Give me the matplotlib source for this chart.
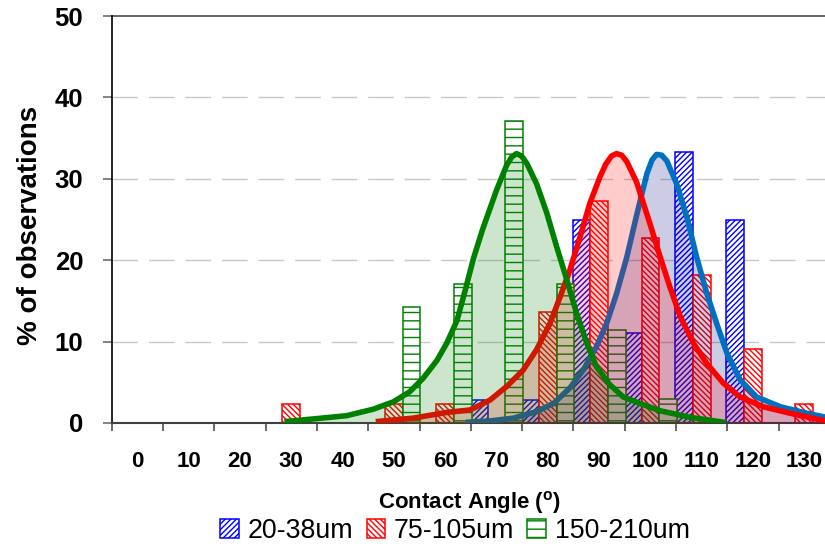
import numpy as np
import matplotlib
matplotlib.use('Agg')
import matplotlib.pyplot as plt
from matplotlib.patches import Patch

plt.rcParams['font.family'] = ['Liberation Sans', 'DejaVu Sans']
plt.rcParams['hatch.linewidth'] = 1.0
plt.rcParams['mathtext.fontset'] = 'custom'
plt.rcParams['mathtext.rm'] = 'Liberation Sans:bold'
plt.rcParams['mathtext.bf'] = 'Liberation Sans:bold'

# categorias do eixo x (angulo de contato, graus)
angles = [0, 10, 20, 30, 40, 50, 60, 70, 80, 90, 100, 110, 120, 130]
series = ['20-38um', '75-105um', '150-210um']

# % de observacoes por faixa de tamanho
pct_fine = [0, 0, 0, 0, 0, 0, 0, 2.8, 2.8, 25.0, 11.1, 33.3, 25.0, 0]
pct_mid = [0, 0, 0, 2.3, 0, 2.3, 2.3, 0, 13.6, 27.3, 22.7, 18.2, 9.1, 2.3]
pct_coarse = [0, 0, 0, 0, 0, 14.3, 17.1, 37.1, 17.1, 11.4, 2.9, 0, 0, 0]

# curvas ajustadas
fit_fine_x = [64.5, 68.7, 73.3, 77.8, 81.1, 84.3, 86.9, 89.5, 91.5, 93.4, 95.4,
              97.3, 99.3, 100.3, 101.2, 102.2, 103.2, 105.1, 107.1, 109.0,
              111.0, 112.9, 114.9, 117.5, 120.7, 125.3, 130.5, 135.0]
fit_fine_y = [0.1, 0.25, 0.6, 1.4, 2.4, 4.3, 6.5, 9.4, 12.3, 15.9, 20.4,
              25.5, 30.6, 32.3, 33.0, 32.9, 32.2, 29.4, 25.3, 20.4,
              15.9, 12.25, 8.6, 5.3, 3.2, 2.0, 1.2, 0.6]

fit_mid_x = [47.0, 53.8, 60.3, 64.8, 68.7, 72.0, 75.2, 77.8, 80.4, 82.4, 84.3,
             86.3, 88.2, 90.2, 91.3, 92.4, 93.4, 94.4, 95.4, 97.3, 99.9, 101.9,
             103.8, 105.8, 108.4, 111.0, 114.2, 117.5, 122.0, 127.2, 133.7, 135.0]
fit_mid_y = [0.2, 0.6, 1.3, 1.6, 2.8, 4.5, 6.5, 9.0, 12.2, 15.5, 18.8,
             22.9, 27.0, 30.3, 31.8, 32.8, 33.1, 32.9, 32.1, 29.6, 24.5, 20.4,
             16.7, 13.1, 9.8, 7.3, 4.9, 3.2, 2.0, 1.2, 0.3, 0.2]

fit_coarse_x = [29.2, 34.3, 40.8, 46.0, 49.9, 53.1, 55.7, 58.4, 60.3, 62.3,
                63.9, 65.5, 67.3, 70.0, 72.0, 73.0, 73.9, 74.9, 75.9, 77.8,
                79.8, 81.7, 83.7, 85.6, 87.6, 89.5, 92.1, 94.7, 98.0, 101.9,
                107.7, 114.2]
fit_coarse_y = [0.2, 0.5, 0.9, 1.7, 2.6, 3.85, 5.5, 7.7, 9.8, 12.6,
                16.3, 20.2, 23.8, 28.6, 31.7, 32.7, 33.1, 32.8, 31.9, 29.4,
                25.8, 21.7, 17.6, 13.5, 9.8, 6.9, 4.7, 3.2, 2.4, 1.5,
                0.7, 0.1]

bar_cols = ['#0000FF', '#FF0000', '#008000']
hatches = ['//////', '\\\\\\\\\\\\', '--']
line_cols = ['#0070C0', '#FF0000', '#008000']
fill_cols = ['#000080', '#FF0000', '#008000']

fig = plt.figure(figsize=(8.25, 5.44), dpi=100)
ax = fig.add_axes([111.7 / 825, 121 / 544, 718.3 / 825, 407 / 544])

# linhas de grade tracejadas
for yv in [10, 20, 30, 40]:
    ax.axhline(yv, color='#c8c8c8', lw=1.0, linestyle=(0, (18.4, 7.9)), zorder=1)
ax.axhline(50, color='#5a5a5a', lw=1.3, zorder=1, clip_on=False)

# barras agrupadas
w = 3.45
for k, vals in enumerate([pct_fine, pct_mid, pct_coarse]):
    xs = [a + (k - 1) * w for a, v in zip(angles, vals) if v > 0]
    hs = [v for v in vals if v > 0]
    ax.bar(xs, hs, width=w, color='white', edgecolor=bar_cols[k],
           hatch=hatches[k], linewidth=1.1, zorder=2)

# curvas com preenchimento transparente
curves = [(fit_fine_x, fit_fine_y), (fit_mid_x, fit_mid_y), (fit_coarse_x, fit_coarse_y)]
for k, (cx, cy) in enumerate(curves):
    ax.fill_between(cx, cy, 0, color=fill_cols[k], alpha=0.2, lw=0, zorder=3 + 2 * k)
    ax.plot(cx, cy, color=line_cols[k], lw=4.0, solid_joinstyle='round',
            zorder=4 + 2 * k)

ax.set_xlim(-5, 135)
ax.set_ylim(0, 50)

for s in ['top', 'right']:
    ax.spines[s].set_visible(False)
ax.spines['left'].set_color('black')
ax.spines['left'].set_linewidth(1.2)
ax.spines['bottom'].set_color('#404040')
ax.spines['bottom'].set_linewidth(1.5)

ax.set_xticks(np.arange(-5, 136, 10))
ax.set_xticklabels([])
ax.set_xticks(angles, minor=True)
ax.set_xticklabels([str(a) for a in angles], minor=True, fontsize=16, fontweight='bold')
ax.tick_params(axis='x', which='major', length=5.8, width=1.1, color='#404040', direction='out')
ax.tick_params(axis='x', which='minor', length=0, pad=20.5)

ax.set_yticks(range(0, 51, 10))
ax.tick_params(axis='y', length=6.5, width=1.1, color='#606060', pad=14, labelsize=18.5)
for lbl in ax.get_yticklabels():
    lbl.set_fontweight('bold')

fig.text(30 / 825, 1 - 225 / 544, '% of observations', rotation=90,
         ha='center', va='center', fontsize=20, fontweight='bold')
fig.text(469 / 825, 1 - 508.5 / 544, r'Contact Angle ($^{\mathbf{o}}$)',
         ha='center', va='baseline', fontsize=16, fontweight='bold')

handles = [Patch(facecolor='white', edgecolor=bar_cols[k], hatch=hatches[k], lw=1.1)
           for k in range(3)]
fig.legend(handles, series, loc='center', bbox_to_anchor=(455 / 825, 1 - 531 / 544),
           ncol=3, frameon=False, prop={'size': 19.3}, handlelength=0.68,
           handleheight=0.68, handletextpad=0.33, columnspacing=0.5,
           borderpad=0, borderaxespad=0)

fig.savefig('out.png', dpi=100)
